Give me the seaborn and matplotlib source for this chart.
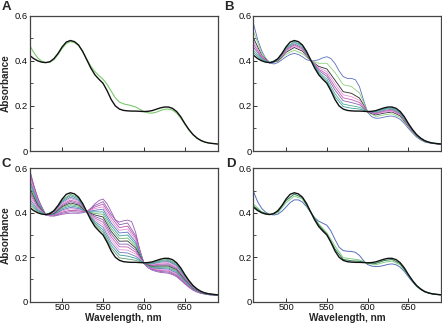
import matplotlib
matplotlib.use('Agg')
import matplotlib.pyplot as plt
import seaborn as sns

sns.set_style('ticks')
plt.rcParams['font.family'] = ['Liberation Sans', 'DejaVu Sans']

# ---------------- data ----------------
# fine wavelength grid used for the most visible traces
wavelength_fine = [460, 465, 470, 475, 480, 485, 490, 495, 500, 505, 510, 515,
                   520, 525, 530, 535, 540, 545, 550, 555, 560, 565, 570, 575,
                   580, 585, 590, 595, 600, 605, 610, 615, 620, 625, 630, 635,
                   640, 645, 650, 655, 660, 665, 670, 675, 680, 685, 690]
# coarse grid used for the intermediate titration traces
wavelength = [460, 470, 480, 490, 500, 510, 520, 530, 540, 550, 560, 570,
              580, 590, 600, 610, 620, 630, 640, 650, 660, 670, 680, 690]

# starting spectrum (black), common to all panels (fine grid)
start = [0.425, 0.410, 0.400, 0.394, 0.392, 0.396, 0.410, 0.433, 0.462, 0.483, 0.490, 0.485,
         0.470, 0.442, 0.405, 0.368, 0.338, 0.318, 0.300, 0.267, 0.228, 0.200, 0.186, 0.180,
         0.178, 0.177, 0.177, 0.176, 0.175, 0.176, 0.179, 0.185, 0.191, 0.195, 0.195, 0.189,
         0.175, 0.152, 0.122, 0.095, 0.073, 0.057, 0.046, 0.039, 0.035, 0.033, 0.031]

# panel A (fine grid)
a_green = [0.470, 0.438, 0.413, 0.398, 0.392, 0.394, 0.405, 0.428, 0.455, 0.477, 0.485, 0.481,
           0.468, 0.442, 0.408, 0.376, 0.352, 0.334, 0.318, 0.295, 0.265, 0.236, 0.217, 0.209,
           0.205, 0.201, 0.195, 0.185, 0.175, 0.169, 0.168, 0.172, 0.179, 0.185, 0.186, 0.181,
           0.168, 0.146, 0.119, 0.094, 0.073, 0.057, 0.046, 0.039, 0.035, 0.033, 0.031]

# panel B: intermediate traces (coarse grid) and final trace (fine grid)
b1 = [0.436, 0.404, 0.392, 0.409, 0.458, 0.485, 0.468, 0.405, 0.345, 0.309, 0.241, 0.197,
      0.190, 0.186, 0.175, 0.175, 0.187, 0.192, 0.172, 0.120, 0.071, 0.045, 0.035, 0.031]
b2 = [0.447, 0.407, 0.392, 0.407, 0.455, 0.481, 0.463, 0.404, 0.350, 0.319, 0.254, 0.208,
      0.201, 0.194, 0.175, 0.173, 0.184, 0.189, 0.169, 0.118, 0.070, 0.044, 0.035, 0.031]
b3 = [0.461, 0.412, 0.391, 0.405, 0.451, 0.475, 0.458, 0.404, 0.357, 0.331, 0.270, 0.223,
      0.215, 0.205, 0.174, 0.169, 0.180, 0.185, 0.166, 0.116, 0.069, 0.044, 0.034, 0.031]
b4 = [0.474, 0.416, 0.391, 0.404, 0.447, 0.470, 0.453, 0.403, 0.363, 0.341, 0.284, 0.236,
      0.228, 0.215, 0.174, 0.166, 0.176, 0.181, 0.163, 0.114, 0.069, 0.043, 0.034, 0.031]
b5 = [0.487, 0.420, 0.391, 0.402, 0.443, 0.465, 0.448, 0.403, 0.369, 0.352, 0.298, 0.249,
      0.241, 0.225, 0.174, 0.164, 0.172, 0.177, 0.160, 0.112, 0.068, 0.043, 0.034, 0.031]
b6 = [0.501, 0.424, 0.391, 0.400, 0.438, 0.459, 0.443, 0.402, 0.375, 0.364, 0.314, 0.263,
      0.256, 0.235, 0.173, 0.160, 0.168, 0.173, 0.156, 0.110, 0.067, 0.042, 0.034, 0.030]
b7 = [0.530, 0.434, 0.391, 0.397, 0.429, 0.447, 0.432, 0.401, 0.389, 0.389, 0.348, 0.294,
      0.286, 0.258, 0.173, 0.153, 0.160, 0.165, 0.149, 0.106, 0.065, 0.041, 0.034, 0.030]
b_end = [0.565, 0.495, 0.445, 0.410, 0.390, 0.386, 0.392, 0.405, 0.418, 0.428, 0.433, 0.428,
         0.418, 0.405, 0.400, 0.400, 0.405, 0.413, 0.418, 0.410, 0.388, 0.355, 0.330, 0.322,
         0.322, 0.316, 0.285, 0.225, 0.172, 0.152, 0.145, 0.146, 0.150, 0.154, 0.155, 0.150,
         0.140, 0.122, 0.100, 0.080, 0.062, 0.049, 0.040, 0.036, 0.033, 0.031, 0.030]

# panel C: intermediate traces (coarse grid) and final trace (fine grid)
c01 = [0.438, 0.405, 0.392, 0.408, 0.457, 0.483, 0.467, 0.405, 0.347, 0.312, 0.241, 0.197,
       0.192, 0.186, 0.175, 0.175, 0.186, 0.190, 0.171, 0.119, 0.071, 0.044, 0.035, 0.031]
c02 = [0.450, 0.410, 0.392, 0.406, 0.452, 0.477, 0.461, 0.405, 0.354, 0.323, 0.253, 0.210,
       0.205, 0.195, 0.175, 0.173, 0.182, 0.185, 0.166, 0.116, 0.069, 0.044, 0.034, 0.031]
c03 = [0.463, 0.415, 0.392, 0.405, 0.447, 0.470, 0.456, 0.405, 0.361, 0.335, 0.266, 0.222,
       0.219, 0.204, 0.174, 0.170, 0.178, 0.181, 0.162, 0.113, 0.068, 0.043, 0.034, 0.031]
c04 = [0.475, 0.420, 0.391, 0.403, 0.442, 0.464, 0.451, 0.405, 0.369, 0.346, 0.279, 0.234,
       0.232, 0.214, 0.174, 0.168, 0.173, 0.176, 0.157, 0.110, 0.066, 0.043, 0.034, 0.031]
c05 = [0.488, 0.425, 0.391, 0.401, 0.437, 0.457, 0.446, 0.405, 0.376, 0.358, 0.291, 0.247,
       0.246, 0.223, 0.174, 0.165, 0.169, 0.171, 0.153, 0.107, 0.065, 0.042, 0.034, 0.031]
c06 = [0.500, 0.430, 0.391, 0.399, 0.432, 0.451, 0.440, 0.405, 0.383, 0.369, 0.304, 0.259,
       0.259, 0.232, 0.174, 0.163, 0.165, 0.166, 0.148, 0.104, 0.063, 0.042, 0.033, 0.031]
c07 = [0.513, 0.435, 0.391, 0.397, 0.428, 0.444, 0.435, 0.405, 0.390, 0.381, 0.316, 0.272,
       0.273, 0.241, 0.174, 0.160, 0.161, 0.161, 0.144, 0.101, 0.062, 0.041, 0.033, 0.030]
c08 = [0.525, 0.440, 0.391, 0.396, 0.423, 0.437, 0.430, 0.405, 0.397, 0.393, 0.329, 0.284,
       0.286, 0.250, 0.173, 0.157, 0.157, 0.157, 0.139, 0.098, 0.061, 0.040, 0.033, 0.030]
c09 = [0.538, 0.445, 0.391, 0.394, 0.418, 0.431, 0.424, 0.405, 0.404, 0.404, 0.342, 0.296,
       0.300, 0.259, 0.173, 0.155, 0.153, 0.152, 0.135, 0.095, 0.059, 0.040, 0.032, 0.030]
c10 = [0.550, 0.450, 0.391, 0.392, 0.413, 0.424, 0.419, 0.405, 0.411, 0.416, 0.354, 0.309,
       0.313, 0.268, 0.173, 0.152, 0.149, 0.147, 0.130, 0.092, 0.058, 0.039, 0.032, 0.030]
c11 = [0.563, 0.455, 0.390, 0.390, 0.408, 0.418, 0.414, 0.405, 0.419, 0.427, 0.367, 0.321,
       0.327, 0.278, 0.173, 0.150, 0.144, 0.142, 0.126, 0.089, 0.056, 0.039, 0.032, 0.030]
c12 = [0.575, 0.460, 0.390, 0.389, 0.403, 0.411, 0.409, 0.405, 0.426, 0.439, 0.380, 0.333,
       0.340, 0.287, 0.172, 0.147, 0.140, 0.138, 0.121, 0.086, 0.055, 0.038, 0.032, 0.030]
c13 = [0.588, 0.465, 0.390, 0.387, 0.398, 0.405, 0.403, 0.405, 0.433, 0.450, 0.392, 0.346,
       0.354, 0.296, 0.172, 0.145, 0.136, 0.133, 0.117, 0.083, 0.053, 0.038, 0.031, 0.030]
c_end = [0.600, 0.525, 0.470, 0.420, 0.392, 0.385, 0.385, 0.389, 0.393, 0.396, 0.398, 0.398,
         0.398, 0.400, 0.405, 0.420, 0.440, 0.455, 0.462, 0.440, 0.405, 0.368, 0.358, 0.364,
         0.367, 0.360, 0.310, 0.230, 0.172, 0.152, 0.142, 0.136, 0.132, 0.130, 0.128, 0.122,
         0.112, 0.097, 0.080, 0.065, 0.052, 0.043, 0.037, 0.034, 0.031, 0.030, 0.030]

# panel D
d_dkgreen = [0.430, 0.402, 0.392, 0.405, 0.455, 0.484, 0.468, 0.404, 0.345, 0.303, 0.237, 0.190,
             0.184, 0.182, 0.174, 0.172, 0.185, 0.190, 0.171, 0.120, 0.071, 0.045, 0.035, 0.031]
d_green = [0.440, 0.405, 0.392, 0.400, 0.445, 0.475, 0.462, 0.404, 0.350, 0.310, 0.250, 0.198,
           0.193, 0.188, 0.172, 0.166, 0.177, 0.183, 0.165, 0.118, 0.070, 0.044, 0.034, 0.031]
d_blue = [0.495, 0.450, 0.420, 0.402, 0.393, 0.390, 0.394, 0.407, 0.426, 0.446, 0.458, 0.458,
          0.448, 0.428, 0.402, 0.378, 0.362, 0.353, 0.344, 0.318, 0.280, 0.245, 0.230, 0.227,
          0.226, 0.222, 0.208, 0.185, 0.167, 0.160, 0.158, 0.159, 0.163, 0.168, 0.170, 0.166,
          0.155, 0.136, 0.112, 0.089, 0.069, 0.055, 0.044, 0.038, 0.034, 0.032, 0.030]

panel_letters = ['A', 'B', 'C', 'D']
ytick_vals = [0, 0.2, 0.4, 0.6]
ytick_text = ['0', '0.2', '0.4', '0.6']
xtick_vals = [500, 550, 600, 650]

# ---------------- figure ----------------
W, H = 442, 324
fig = plt.figure(figsize=(W / 100, H / 100), dpi=100)

def frac(l, r, t, b):
    return [l / W, 1 - b / H, (r - l) / W, (b - t) / H]

axA = fig.add_axes(frac(29.5, 217.5, 15.7, 151))
axB = fig.add_axes(frac(253.5, 441, 15.7, 151))
axC = fig.add_axes(frac(29.5, 217.5, 168.3, 301.7))
axD = fig.add_axes(frac(253.5, 441, 168.3, 301.7))

thin = 0.6
thick = 1.0

def line(ax, xs, ys, c, w):
    sns.lineplot(x=xs, y=ys, ax=ax, color=c, lw=w, legend=False)

# A
line(axA, wavelength_fine, a_green, '#7cc96e', 0.8)
line(axA, wavelength_fine, start, '#111111', thick)

# B
line(axB, wavelength_fine, b_end, '#5a6fc0', thin)
b_series = [b7, b6, b5, b4, b3, b2, b1]
b_colors = ['#8ccf7e', '#2a2a2a', '#e899d8', '#c05cb8', '#8a62b4', '#55b08a', '#3aa0a8']
for s, c in zip(b_series, b_colors):
    line(axB, wavelength, s, c, thin)
line(axB, wavelength_fine, start, '#111111', thick)

# C
line(axC, wavelength_fine, c_end, '#9a58b4', thin)
c_series = [c13, c12, c11, c10, c09, c08, c07, c06, c05, c04, c03, c02, c01]
c_colors = ['#8b5fb0', '#c050b0', '#e090d0', '#6070c0', '#3aa0a0', '#6ab86a',
            '#333333', '#8b5fb0', '#c45bb5', '#e49ad6', '#6a7fc0', '#3b9a9a', '#5aa06a']
for s, c in zip(c_series, c_colors):
    line(axC, wavelength, s, c, thin)
line(axC, wavelength_fine, start, '#111111', thick)

# D
line(axD, wavelength_fine, d_blue, '#5a6fc0', 0.7)
line(axD, wavelength, d_green, '#86cf84', 0.7)
line(axD, wavelength, d_dkgreen, '#2f7f55', 0.7)
line(axD, wavelength_fine, start, '#111111', thick)

for ax, letter in zip([axA, axB, axC, axD], panel_letters):
    ax.set_xlim(460, 690)
    ax.set_ylim(0, 0.6)
    ax.set_xticks(xtick_vals)
    ax.set_yticks(ytick_vals)
    ax.set_yticklabels(ytick_text)
    ax.set_yticks([0.1, 0.3, 0.5], minor=True)
    ax.tick_params(which='major', direction='in', length=3.2, width=0.7,
                   labelsize=6.8, pad=1.2, colors='#333333', labelcolor='#111111')
    ax.tick_params(which='minor', direction='in', length=1.8, width=0.6, colors='#333333')
    for sp in ax.spines.values():
        sp.set_visible(True)
        sp.set_color('#444444')
        sp.set_linewidth(0.9)
    ax.set_xlabel('')
    ax.set_ylabel('')

for ax in [axA, axB]:
    ax.tick_params(labelbottom=False)

for ax in [axA, axC]:
    ax.set_ylabel('Absorbance', fontsize=7.2, fontweight='bold', labelpad=2.5)
for ax in [axC, axD]:
    ax.set_xlabel('Wavelength, nm', fontsize=7.2, fontweight='bold', labelpad=0.3)

letter_pos = [(2, 1), (224, 1), (2, 158), (226, 158)]
for letter, (lx, ly) in zip(panel_letters, letter_pos):
    fig.text(lx / W, 1 - ly / H, letter, fontsize=9.5, fontweight='bold', va='top', ha='left')

fig.savefig('out.png', dpi=100)
